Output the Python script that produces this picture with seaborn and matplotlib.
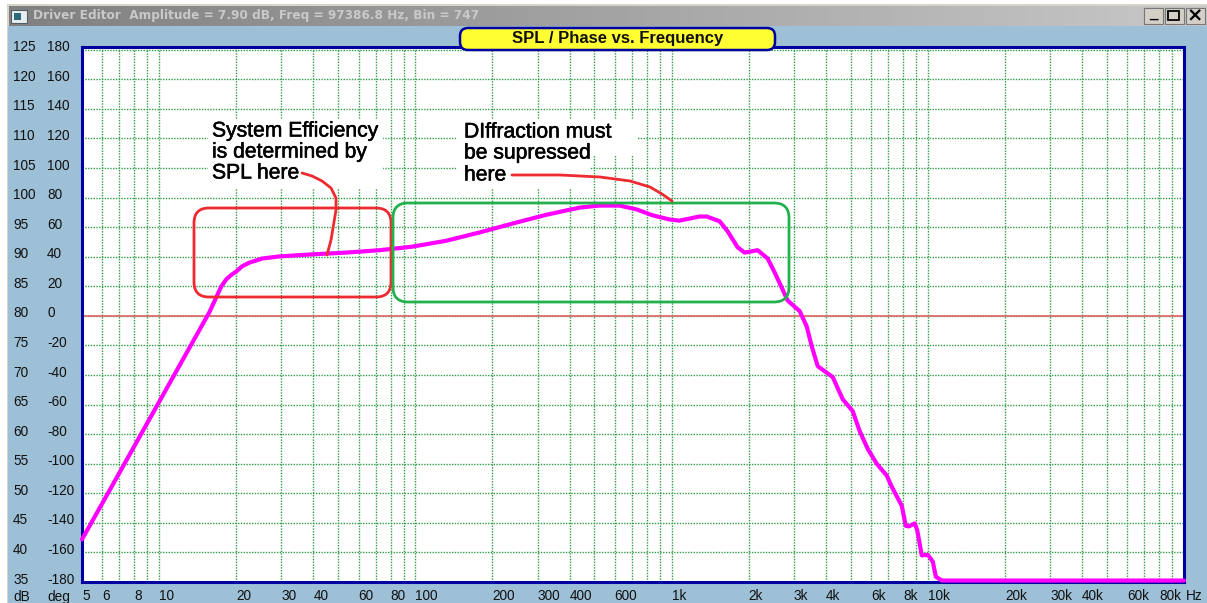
import numpy as np
import pandas as pd
import matplotlib
matplotlib.use('Agg')
import matplotlib.pyplot as plt
import matplotlib.patheffects as pe
from matplotlib.ticker import NullLocator
from matplotlib.patches import FancyBboxPatch, Rectangle
import seaborn as sns

# Valores
freq_hz = [5, 6.79, 15.7, 16.9, 17.5, 18.3, 19.1, 20, 21.1, 22.5, 25.3, 29.4, 39.6, 53.8, 72.4, 97.3, 132, 178, 239,
           325, 437, 523, 627, 730, 843, 982, 1072, 1287, 1370, 1540, 1655, 1810, 1928, 2168, 2371,
           2525, 2690, 2838, 3162, 3367, 3522, 3718, 4256, 4656, 5093, 5425, 5831, 6322, 6915, 7235,
           7916, 8206, 8430, 8897, 9100, 9475, 10000, 10460, 10750, 11340, 100000]
spl_db = [42.2, 52.45, 80.6, 83.6, 85.0, 86.2, 86.9, 87.5, 88.4, 89.0, 89.7, 90.05, 90.4, 90.7, 91.1, 91.7, 92.7, 94.1, 95.6,
          97.1, 98.3, 98.65, 98.65, 98.0, 97.0, 96.3, 96.1, 96.8, 96.8, 96.0, 94.3, 91.6, 90.7, 91.1, 89.7,
          87.35, 84.8, 82.6, 80.8, 78.25, 74.9, 71.5, 69.65, 65.9, 63.9, 60.5, 57.5, 55.0, 53.0, 51.1,
          47.9, 44.5, 44.4, 44.9, 43.7, 39.5, 39.6, 38.45, 35.9, 35.25, 35.25]

db_labels = [125, 120, 115, 110, 105, 100, 95, 90, 85, 80, 75, 70, 65, 60, 55, 50, 45, 40, 35]
deg_labels = [180, 160, 140, 120, 100, 80, 60, 40, 20, 0, -20, -40, -60, -80, -100, -120, -140, -160, -180]
x_ticks = [5, 6, 7, 8, 9, 10, 20, 30, 40, 50, 60, 70, 80, 90, 100, 200, 300, 400, 500, 600, 700, 800, 900,
           1000, 2000, 3000, 4000, 5000, 6000, 7000, 8000, 9000, 10000, 20000, 30000, 40000, 50000, 60000,
           70000, 80000, 90000]
x_names = {5: '5', 6: '6', 8: '8', 10: '10', 20: '20', 30: '30', 40: '40', 60: '60', 80: '80', 100: '100',
           200: '200', 300: '300', 400: '400', 600: '600', 1000: '1k', 2000: '2k', 3000: '3k', 4000: '4k',
           6000: '6k', 8000: '8k', 10000: '10k', 20000: '20k', 30000: '30k', 40000: '40k', 60000: '60k',
           80000: '80k'}

window_title = 'Driver Editor  Amplitude = 7.90 dB, Freq = 97386.8 Hz, Bin = 747'
chart_title = 'SPL / Phase vs. Frequency'
note_left = ['System Efficiency', 'is determined by', 'SPL here']
note_right = ['DIffraction must', 'be supressed', 'here']

W, H = 1207, 603
BODY = '#9dc0d6'
NAVY = '#0000a0'

sns.set_theme(style='white')
plt.rcParams['font.family'] = ['Liberation Sans', 'DejaVu Sans']

fig = plt.figure(figsize=(W / 100, H / 100), dpi=100, facecolor='white')

# Capa de fondo con la ventana
back = fig.add_axes([0, 0, 1, 1], zorder=0)
back.axis('off')
back.imshow(np.linspace(0.5, 0.78, 256).reshape(1, -1), cmap='gray', vmin=0, vmax=1,
            extent=(9, W, 26, 6), aspect='auto', zorder=2)
back.set_xlim(0, W)
back.set_ylim(H, 0)
back.add_patch(Rectangle((7, 4), W - 7, H - 4, fc='#d8d4cc', ec='none', zorder=1))
back.add_patch(Rectangle((8, 26), W - 8, H - 26, fc=BODY, ec='none', zorder=1))
back.add_patch(Rectangle((11, 10), 16, 13, fc='#e8eef0', ec='#50606a', lw=0.8, zorder=3))
back.add_patch(Rectangle((14, 13), 7, 7, fc='#2a6a7a', ec='none', zorder=3))
back.text(33, 16, window_title, color='#c9c9c9', fontsize=8.7, fontweight='bold',
          family='DejaVu Sans', va='center', ha='left', zorder=3)
for bx in [1144, 1165, 1186]:
    back.add_patch(Rectangle((bx, 8), 19, 16, fc='#d4d0c8', ec='#777777', lw=0.8, zorder=3))
back.text(1153, 14, '_', fontsize=11, fontweight='bold', color='black', ha='center', va='center', zorder=4)
back.add_patch(Rectangle((1168, 11), 11, 9, fc='none', ec='black', lw=1.3, zorder=4))
back.text(1195, 16, '\u00d7', fontsize=14, fontweight='bold', color='black', ha='center', va='center',
          family='DejaVu Sans', zorder=4)

# Grafico principal
ax = fig.add_axes([82 / W, 1 - 582 / H, (1184 - 82) / W, (582 - 47) / H], zorder=1)
ax.set_facecolor('white')
ax.set_xscale('log')
ax.set_xlim(5, 100000)
ax.set_ylim(35.25, 125.46)
ax.set_axisbelow(True)
ax.grid(True, which='major', color='#2f9e44', lw=1.0, ls=(0, (1, 1)))
ax.set_xticks(x_ticks)
ax.set_xticklabels([x_names.get(v, '') for v in x_ticks], ha='left', fontsize=9.8, color='#111111')
ax.xaxis.set_minor_locator(NullLocator())
ax.set_yticks(db_labels)
ax.set_yticklabels([])
ax.tick_params(axis='both', length=0)
ax.tick_params(axis='x', pad=5)
for s in ax.spines.values():
    s.set_color(NAVY)
    s.set_linewidth(2.2)
ax.axhline(80, color='#dd6e6e', lw=1.3, zorder=2)

# Zonas blancas detras de las notas
for rx, ry, rw, rh in [(208, 120, 175, 68), (457, 120, 180, 35), (457, 155, 133, 33)]:
    ax.add_patch(Rectangle((rx, ry), rw, rh, fc='white', ec='none', zorder=1, transform=back.transData))

df = pd.DataFrame({'freq': freq_hz, 'spl': spl_db})
sns.lineplot(data=df, x='freq', y='spl', ax=ax, color='#ff00ff', lw=3.0, estimator=None, sort=False,
             zorder=3, clip_on=False)
ax.set_xlabel('')
ax.set_ylabel('')

# Etiquetas de las dos escalas verticales
ytrans = ax.get_yaxis_transform()
for d, g in zip(db_labels, deg_labels):
    ax.annotate(str(d), xy=(0, d), xycoords=ytrans, xytext=(-69, 2.5), textcoords='offset pixels',
                ha='left', va='center', fontsize=9.8, color='#111111', annotation_clip=False)
    ax.annotate(str(g), xy=(0, d), xycoords=ytrans, xytext=(-35, 2.5), textcoords='offset pixels',
                ha='left', va='center', fontsize=9.8, color='#111111', annotation_clip=False)
back.text(13, 597, 'dB', fontsize=9.8, color='#111111', va='center', ha='left', zorder=3)
back.text(47, 597, 'deg', fontsize=9.8, color='#111111', va='center', ha='left', zorder=3)
back.text(1186, 596, 'Hz', fontsize=9.8, color='#111111', va='center', ha='left', zorder=3)

# Capa superior con las anotaciones
over = fig.add_axes([0, 0, 1, 1], zorder=2)
over.set_xlim(0, W)
over.set_ylim(H, 0)
over.axis('off')
over.patch.set_alpha(0)

pad = 15
over.add_patch(FancyBboxPatch((194 + pad, 208 + pad), 197 - 2 * pad, 89 - 2 * pad,
                              boxstyle=f'round,pad={pad},rounding_size={pad}', fc='none', ec='#ee2a30', lw=2.0))
over.add_patch(FancyBboxPatch((393 + pad, 203 + pad), 396 - 2 * pad, 99 - 2 * pad,
                              boxstyle=f'round,pad={pad},rounding_size={pad}', fc='none', ec='#22b14c', lw=2.0))

arrow_a = [(302, 173), (312, 176), (322, 181), (331, 188), (336, 198), (336, 210), (334, 222), (331, 240), (327, 255)]
arrow_b = [(512, 175), (560, 175), (600, 177), (630, 181), (650, 187), (662, 194), (672, 201)]
for pts in [arrow_a, arrow_b]:
    xs, ys = zip(*pts)
    over.plot(xs, ys, color='#ee2a30', lw=2.0, solid_capstyle='round', solid_joinstyle='round')

stroke = [pe.withStroke(linewidth=0.4, foreground='black')]
for txt, yy in zip(note_left, [131, 152, 173]):
    over.text(212, yy, txt, fontsize=15.2, color='black', va='center', ha='left', path_effects=stroke)
for txt, yy in zip(note_right, [132, 153, 175]):
    over.text(464, yy, txt, fontsize=15.2, color='black', va='center', ha='left', path_effects=stroke)

over.add_patch(FancyBboxPatch((468, 36), 299, 6, boxstyle='round,pad=8,rounding_size=8',
                              fc='#ffff33', ec=NAVY, lw=1.8))
over.text(618, 38.5, chart_title, fontsize=12, fontweight='bold', color='#111111', ha='center', va='center')

fig.savefig('out.png', dpi=100, facecolor='white')
